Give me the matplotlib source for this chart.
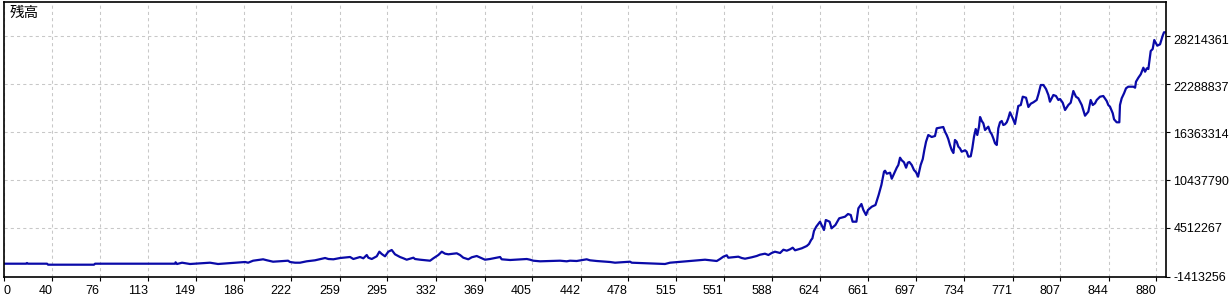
import matplotlib
matplotlib.use("Agg")
import matplotlib.pyplot as plt
import matplotlib.transforms as mtransforms
import numpy as np

# balance curve: trade number, balance (thousands)
trades = [
    3.2, 20.0, 20.7, 21.5, 36.0, 36.7, 71.7, 72.5, 133.4, 133.8, 134.9, 138.7,
    144.8, 160.0, 166.1, 186.7, 189.0, 192.8, 200.4, 203.4, 208.0, 219.4, 220.9,
    224.7, 228.5, 233.6, 239.9, 247.6, 250.1, 253.9, 259.0, 266.6, 269.1, 274.2,
    276.7, 279.3, 280.5, 283.1, 286.9, 288.9, 290.7, 293.2, 295.7, 298.3, 300.8,
    304.6, 307.2, 309.7, 314.8, 316.0, 319.9, 327.5, 330.0, 333.8, 336.4, 338.9,
    341.4, 347.8, 350.3, 352.8, 356.6, 359.2, 363.0, 366.8, 369.3, 373.1, 380.8,
    382.0, 388.4, 401.1, 403.6, 406.1, 411.2, 426.4, 431.5, 434.0, 439.1, 446.7,
    449.2, 454.3, 464.5, 468.3, 479.7, 481.0, 506.3, 510.1, 516.4, 531.7, 536.8,
    545.7, 548.2, 550.7, 553.3, 554.5, 562.1, 564.7, 567.2, 572.3, 576.1, 578.6,
    582.4, 585.0, 587.5, 590.0, 593.9, 596.4, 599.0, 601.5, 603.5, 605.3, 607.8,
    610.4, 614.2, 615.9, 617.5, 618.5, 619.7, 621.4, 624.3, 627.3, 628.7, 631.6,
    633.1, 636.0, 638.9, 643.3, 645.6, 647.7, 649.1, 652.0, 653.5, 655.8, 657.3,
    659.3, 660.8, 663.7, 666.5, 668.9, 671.0, 673.0, 673.8, 675.1, 677.6, 678.9,
    682.7, 683.9, 685.2, 686.5, 688.2, 689.8, 691.1, 692.3, 694.1, 695.8, 697.4,
    698.9, 700.9, 702.5, 703.7, 705.0, 706.7, 709.3, 711.8, 713.1, 718.1, 719.4,
    720.7, 721.9, 723.2, 724.5, 725.8, 727.0, 728.3, 729.6, 730.8, 732.1, 734.7,
    735.9, 737.2, 739.0, 740.2, 741.5, 742.8, 744.0, 745.3, 746.1, 747.4, 748.6,
    749.9, 751.2, 752.4, 753.7, 755.0, 756.2, 757.5, 758.8, 760.0, 761.3, 762.6,
    763.8, 765.1, 766.4, 767.6, 768.9, 771.0, 772.7, 775.2, 777.1, 778.6, 781.1,
    782.9, 784.7, 786.7, 789.2, 790.5, 792.3, 794.3, 796.3, 798.1, 799.3, 801.9,
    803.9, 805.7, 807.0, 809.0, 810.8, 813.3, 815.1, 817.1, 819.1, 820.9, 823.5,
    824.7, 826.0, 828.5, 830.3, 831.9, 833.6, 834.9, 837.4, 839.9, 842.5, 843.7,
    845.0, 847.1, 848.1, 850.1, 852.1, 852.6, 853.9, 855.7, 857.2, 858.9, 862.8,
    864.1, 864.8, 866.6, 868.4, 870.4, 871.7, 873.0, 874.2, 876.0, 877.5, 878.7,
    880.0, 881.0, 883.1, 885.1, 886.1, 887.4,
]
balance_k = [
    162, 162, 248, 162, 162, 39, 39, 162, 162, 334, 125, 285,
    125, 285, 125, 371, 285, 531, 703, 580, 408, 531, 371,
    285, 285, 457, 580, 863, 740, 703, 863, 986, 740, 986,
    826, 1233, 900, 740, 1073, 1639, 1356, 1073, 1639, 1848, 1319,
    986, 826, 654, 900, 740, 654, 531, 826, 1233, 1639, 1393,
    1319, 1442, 1233, 900, 703, 950, 1110, 826, 654, 740, 986,
    703, 617, 740, 654, 531, 457, 531, 457, 531, 494, 703,
    580, 494, 371, 285, 408, 285, 125, 285, 371, 580, 654,
    494, 740, 1025, 1196, 900, 1025, 863, 777, 950, 1110, 1270,
    1393, 1233, 1479, 1639, 1479, 1885, 1762, 1934, 2131, 1811, 1934,
    2057, 2340, 2586, 3079, 3288, 4186, 4715, 5331, 4309, 5540, 5331,
    4518, 4924, 5749, 5946, 6278, 6155, 5331, 5331, 6980, 7509, 6770,
    6155, 6770, 7177, 7386, 8616, 9847, 11484, 11607, 11238, 11361, 10622,
    11976, 12308, 13207, 12887, 12641, 11976, 12591, 12677, 12308, 11693, 11410,
    10868, 12308, 13047, 14154, 15176, 16000, 15754, 15877, 16825, 16985, 16406,
    16000, 15508, 14770, 14154, 13785, 15385, 15176, 14560, 14363, 13945, 14117,
    13945, 13331, 13380, 14363, 15791, 16739, 16000, 17022, 18215, 17723, 17440,
    16615, 16825, 17022, 16406, 16086, 15594, 14979, 14770, 16825, 17563, 17723,
    17231, 17317, 17563, 18055, 18794, 18055, 17354, 19569, 19692, 20714, 20590,
    19446, 19852, 20024, 20307, 21009, 22153, 22153, 21661, 20923, 20098, 20923,
    20800, 20307, 20430, 19975, 19077, 19692, 19975, 21415, 20714, 20517, 19692,
    19077, 18375, 18868, 20307, 19692, 19901, 20307, 20714, 20800, 20184, 19692,
    19483, 18671, 17932, 17563, 17563, 19692, 20517, 21132, 21747, 21944, 21944,
    21821, 22559, 23052, 23470, 24282, 23790, 24208, 24122, 26337, 26584, 27691,
    27285, 26990, 27162, 28220, 28639, 28639,
]

xtick_pos = [3.2, 40, 76, 113, 149, 186, 222, 259, 295, 332, 369, 405, 442,
             478, 515, 551, 588, 624, 661, 697, 734, 771, 807, 844, 880]
xtick_labels = ["0"] + [str(v) for v in xtick_pos[1:]]
ytick_pos = [-1413256, 4512267, 10437790, 16363314, 22288837, 28214361]
ytick_labels = ["-1413256", "4512267", "10437790", "16363314",
                "22288837", "28214361"]

fig = plt.figure(figsize=(12.3, 3), dpi=100)
ax = fig.add_axes([4 / 1230, 22.7 / 300, 1161.7 / 1230, 275.3 / 300])

ax.plot(trades, np.array(balance_k) * 1000, color="#0a0aa8", linewidth=1.6)

ax.set_xlim(3.2, 887.4)
ax.set_ylim(-1511700, 32367600)

ax.set_xticks(xtick_pos)
ax.set_xticklabels(xtick_labels, family="Liberation Sans", fontsize=9)
ax.yaxis.tick_right()
ax.set_yticks(ytick_pos)
ax.set_yticklabels(ytick_labels, family="Liberation Sans", fontsize=9)

ax.tick_params(axis="both", direction="out", length=3, width=0.8, colors="black")
ax.tick_params(axis="x", pad=2.3)
ax.tick_params(axis="y", pad=2.6)

for lbl in ax.get_xticklabels():
    lbl.set_horizontalalignment("right")
ax.get_xticklabels()[0].set_horizontalalignment("left")

# the upper value labels sit a little below their gridlines
y_shift_px = [0, -0.6, 0.6, 1.1, 2.7, 4.2]
for tick, dy in zip(ax.yaxis.get_major_ticks(), y_shift_px):
    tick.label2.set_horizontalalignment("left")
    off = mtransforms.ScaledTranslation(0, -dy / 100, fig.dpi_scale_trans)
    tick.label2.set_transform(tick.label2.get_transform() + off)

ax.grid(True, color="#c8c8c8", linestyle=(0, (3, 3)), linewidth=0.75)
ax.set_axisbelow(True)
for s in ax.spines.values():
    s.set_linewidth(1.2)
    s.set_color("black")

fig.text(10 / 1230, 1 - 6 / 300, "残高", family=["Noto Sans CJK JP", "DejaVu Sans"],
         fontsize=10.5, va="top", ha="left")

fig.savefig("out.png", dpi=100)
